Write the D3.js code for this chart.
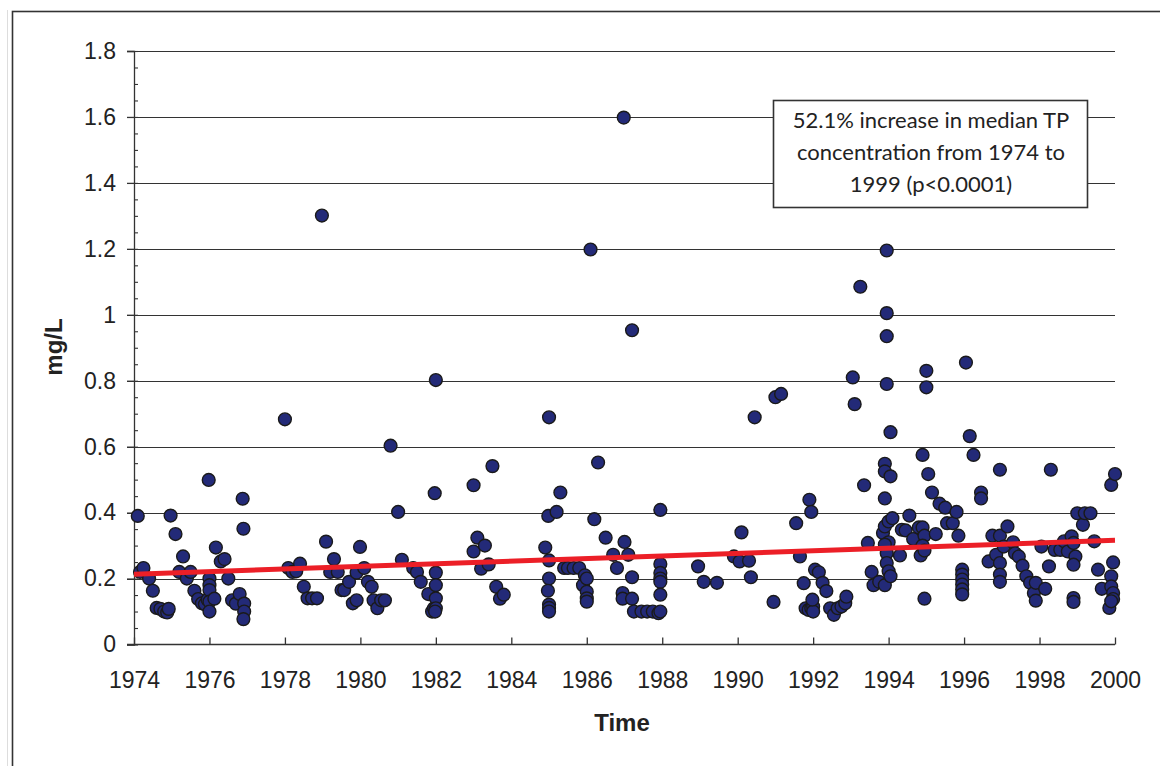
<!DOCTYPE html>
<html>
<head>
<meta charset="utf-8">
<script src="https://cdn.jsdelivr.net/npm/d3@7.9.0/dist/d3.min.js"></script>
<style>
  body { margin: 0; background: #fff; }
  svg { display: block; }
  .tick text { font-family: "Liberation Sans", Arial, sans-serif; fill: #222; }
</style>
</head>
<body>
<div id="chart"></div>
<script>
// TP samples, [decimal year, mg/L]
const samples = [
  [1974.1,0.39],[1974.16,0.22],[1974.25,0.232],[1974.4,0.20],[1974.5,0.163],[1974.6,0.111],[1974.7,0.108],
  [1974.8,0.10],[1974.88,0.097],[1974.92,0.108],[1974.97,0.391],[1975.1,0.335],[1975.2,0.22],[1975.3,0.267],
  [1975.4,0.20],[1975.5,0.22],[1975.6,0.163],[1975.7,0.138],[1975.8,0.125],[1975.88,0.122],[1975.95,0.136],
  [1975.98,0.499],[1976.0,0.20],[1976.0,0.18],[1976.0,0.165],[1976.0,0.13],[1976.0,0.10],[1976.13,0.139],
  [1976.17,0.294],[1976.3,0.252],[1976.4,0.259],[1976.5,0.20],[1976.6,0.134],[1976.7,0.124],[1976.8,0.153],
  [1976.88,0.442],[1976.9,0.351],[1976.92,0.124],[1976.92,0.10],[1976.9,0.077],
  [1978.0,0.683],[1978.09,0.232],[1978.2,0.22],[1978.3,0.222],[1978.4,0.245],[1978.5,0.175],[1978.6,0.14],
  [1978.72,0.14],[1978.85,0.14],[1978.98,1.301],[1979.09,0.312],[1979.2,0.22],[1979.3,0.259],[1979.4,0.22],
  [1979.5,0.165],[1979.57,0.165],[1979.7,0.19],[1979.8,0.125],[1979.9,0.134],[1979.9,0.218],[1979.99,0.296],
  [1980.1,0.232],[1980.2,0.19],[1980.3,0.175],[1980.35,0.134],[1980.45,0.11],[1980.55,0.134],[1980.65,0.134],
  [1980.8,0.603],[1981.0,0.402],[1981.1,0.257],[1981.4,0.232],[1981.5,0.22],[1981.6,0.19],[1981.8,0.153],
  [1981.9,0.10],[1981.95,0.11],[1981.97,0.459],[1982.0,0.802],[1982.0,0.218],[1982.0,0.18],[1982.0,0.14],
  [1982.0,0.11],[1981.98,0.10],
  [1983.0,0.483],[1983.5,0.541],[1983.1,0.324],[1983.0,0.282],[1983.3,0.30],[1983.2,0.23],[1983.4,0.243],
  [1983.6,0.175],[1983.7,0.139],[1983.8,0.151],
  [1984.9,0.294],[1985.0,0.689],[1985.0,0.255],[1984.98,0.39],[1985.2,0.402],[1985.3,0.461],[1985.0,0.20],
  [1984.97,0.163],[1985.0,0.121],[1985.0,0.111],[1985.0,0.10],[1985.4,0.232],[1985.5,0.232],[1985.65,0.232],
  [1985.8,0.232],[1985.9,0.18],[1985.95,0.21],[1986.0,0.20],[1986.0,0.16],[1986.0,0.14],[1986.0,0.13],
  [1986.1,1.198],[1986.2,0.38],[1986.3,0.552],[1986.5,0.324],[1986.7,0.272],[1986.8,0.232],[1986.98,1.598],
  [1987.0,0.311],[1987.1,0.272],[1986.95,0.156],[1986.95,0.139],[1987.2,0.139],[1987.2,0.204],[1987.2,0.953],
  [1987.25,0.10],[1987.45,0.10],[1987.6,0.10],[1987.75,0.10],[1987.9,0.095],[1987.95,0.10],[1987.95,0.408],
  [1987.95,0.244],[1987.95,0.217],[1987.95,0.20],[1987.95,0.19],[1987.95,0.151],
  [1988.95,0.237],[1989.1,0.19],[1989.45,0.187],[1990.1,0.34],[1989.9,0.267],[1990.05,0.252],[1990.3,0.254],
  [1990.35,0.204],[1990.45,0.689],[1990.95,0.129],[1991.0,0.75],[1991.15,0.76],[1991.55,0.368],[1991.65,0.267],
  [1991.75,0.186],[1991.8,0.11],[1991.88,0.105],[1991.95,0.11],[1992.0,0.115],[1992.0,0.10],[1991.98,0.136],
  [1991.9,0.439],[1991.95,0.402],[1992.05,0.227],[1992.15,0.219],[1992.25,0.187],[1992.35,0.162],[1992.45,0.11],
  [1992.55,0.09],[1992.65,0.11],[1992.75,0.115],[1992.85,0.125],[1992.88,0.145],
  [1993.1,0.729],[1993.05,0.81],[1993.25,1.085],[1993.35,0.483],[1993.45,0.308],[1993.55,0.22],[1993.6,0.18],
  [1993.75,0.19],[1993.9,0.18],[1993.95,1.195],[1993.95,1.005],[1993.95,0.935],[1993.95,0.79],[1994.05,0.644],
  [1993.9,0.548],[1993.9,0.525],[1994.05,0.51],[1993.9,0.443],[1993.85,0.338],[1993.9,0.358],[1994.0,0.373],
  [1994.1,0.383],[1994.0,0.31],[1993.9,0.303],[1993.95,0.277],[1993.95,0.247],[1994.0,0.222],[1994.05,0.207],
  [1994.3,0.27],[1994.35,0.348],[1994.45,0.346],[1994.55,0.391],[1994.65,0.32],[1994.8,0.355],[1994.9,0.355],
  [1994.95,0.33],[1994.9,0.30],[1994.85,0.27],[1994.95,0.285],[1994.9,0.575],[1994.95,0.139],[1995.0,0.83],
  [1995.0,0.78],[1995.05,0.517],[1995.15,0.461],[1995.25,0.335],[1995.35,0.427],[1995.5,0.415],[1995.55,0.368],
  [1995.7,0.368],[1995.8,0.402],[1995.85,0.33],[1995.95,0.227],[1995.95,0.212],[1995.95,0.197],[1995.95,0.182],
  [1995.95,0.167],[1995.95,0.152],
  [1996.05,0.855],[1996.15,0.632],[1996.25,0.575],[1996.45,0.461],[1996.45,0.443],[1996.65,0.252],[1996.75,0.33],
  [1996.85,0.272],[1996.95,0.33],[1996.95,0.53],[1996.95,0.247],[1996.95,0.212],[1996.95,0.19],[1997.05,0.297],
  [1997.15,0.358],[1997.3,0.31],[1997.35,0.277],[1997.45,0.267],[1997.55,0.239],[1997.65,0.207],[1997.75,0.187],
  [1997.85,0.156],[1997.9,0.187],[1997.9,0.133],[1998.05,0.297],[1998.15,0.169],[1998.25,0.237],[1998.3,0.53],
  [1998.4,0.287],[1998.55,0.287],[1998.65,0.313],[1998.75,0.282],[1998.85,0.328],[1998.9,0.308],[1998.95,0.267],
  [1998.9,0.242],[1998.9,0.141],[1998.9,0.129],[1999.0,0.398],[1999.15,0.363],[1999.2,0.398],[1999.35,0.398],
  [1999.45,0.313],[1999.55,0.227],[1999.65,0.169],[1999.9,0.484],[2000.0,0.517],[1999.95,0.249],[1999.9,0.207],
  [1999.9,0.176],[1999.95,0.156],[1999.95,0.138],[1999.85,0.111],[1999.9,0.131]
];

// fitted trend, endpoints [year, mg/L]
const trend = [[1974, 0.213], [2000, 0.316]];

const yearTicks = d3.range(1974, 2001, 2);
const tpTicks = [0, 0.2, 0.4, 0.6, 0.8, 1, 1.2, 1.4, 1.6, 1.8];
const tpMinorTicks = d3.range(0, 1.8001, 0.05);
const noteLines = ['52.1% increase in median TP', 'concentration from 1974 to', '1999 (p<0.0001)'];

const width = 1160, height = 766;
const plot = { left: 134, right: 1115, top: 51, bottom: 644.5 };

const svg = d3.select('#chart').append('svg')
  .attr('width', width).attr('height', height);

// outer frame
svg.append('line').attr('x1', 7.5).attr('x2', 7.5).attr('y1', 10).attr('y2', height)
  .attr('stroke', '#ddd').attr('stroke-width', 1);
svg.append('rect').attr('x', 12.5).attr('y', 11.5).attr('width', 1300).attr('height', 900)
  .attr('fill', 'none').attr('stroke', '#333').attr('stroke-width', 1.6);

const x = d3.scaleLinear().domain([1974, 2000]).range([plot.left, plot.right]);
const y = d3.scaleLinear().domain([0, 1.8]).range([plot.bottom, plot.top]);

// gridlines
svg.append('g').selectAll('line')
  .data(tpTicks.filter(d => d > 0))
  .join('line')
  .attr('x1', plot.left - 7).attr('x2', plot.right)
  .attr('y1', d => Math.round(y(d)) + 0.5).attr('y2', d => Math.round(y(d)) + 0.5)
  .attr('stroke', '#333').attr('stroke-width', 1.1);

// y axis
const yAxis = svg.append('g')
  .attr('transform', `translate(${plot.left}, 0)`)
  .call(d3.axisLeft(y).tickValues(tpTicks).tickSize(7).tickPadding(11).tickFormat(d3.format('~g')));
yAxis.selectAll('text').attr('font-size', 23);
yAxis.selectAll('line, path').attr('stroke', '#333').attr('stroke-width', 1.3);

svg.append('g')
  .attr('transform', `translate(${plot.left}, 0)`)
  .call(d3.axisRight(y).tickValues(tpMinorTicks).tickSize(4).tickFormat(''))
  .call(g => g.select('.domain').remove())
  .selectAll('line').attr('stroke', '#333').attr('stroke-width', 1.1);

// x axis
const xAxis = svg.append('g')
  .attr('transform', `translate(0, ${plot.bottom})`)
  .call(d3.axisBottom(x).tickValues(yearTicks).tickSize(-7).tickPadding(27).tickFormat(d3.format('d')));
xAxis.select('.domain').attr('d', `M${plot.left - 7},0H${plot.right}`);
xAxis.selectAll('text').attr('font-size', 23);
xAxis.selectAll('line, path').attr('stroke', '#333').attr('stroke-width', 1.3);

// axis titles
svg.append('text')
  .attr('transform', 'translate(62, 347) rotate(-90)')
  .attr('text-anchor', 'middle')
  .attr('font-family', '"Liberation Sans", Arial, sans-serif')
  .attr('font-weight', 'bold').attr('font-size', 24).attr('fill', '#222')
  .text('mg/L');
svg.append('text')
  .attr('x', 622).attr('y', 731)
  .attr('text-anchor', 'middle')
  .attr('font-family', '"Liberation Sans", Arial, sans-serif')
  .attr('font-weight', 'bold').attr('font-size', 24).attr('fill', '#222')
  .text('Time');

// points
svg.append('g').selectAll('circle')
  .data(samples)
  .join('circle')
  .attr('cx', d => x(d[0]))
  .attr('cy', d => y(d[1]))
  .attr('r', 6.4)
  .attr('fill', '#232a78')
  .attr('stroke', '#1a1a1a')
  .attr('stroke-width', 1.4);

// trend line
svg.append('path')
  .datum(trend)
  .attr('d', d3.line().x(d => x(d[0])).y(d => y(d[1])))
  .attr('fill', 'none')
  .attr('stroke', '#ec1f27')
  .attr('stroke-width', 5);

// annotation
const note = svg.append('g');
note.append('rect')
  .attr('x', 773.5).attr('y', 100.5).attr('width', 314).attr('height', 107)
  .attr('fill', '#fff').attr('stroke', '#333').attr('stroke-width', 1.6);
note.selectAll('text')
  .data(noteLines)
  .join('text')
  .attr('x', 931)
  .attr('y', (d, i) => 128 + i * 32)
  .attr('text-anchor', 'middle')
  .attr('font-family', 'Lato, "Open Sans", sans-serif')
  .attr('font-size', 22).attr('fill', '#222')
  .text(d => d);
</script>
</body>
</html>
